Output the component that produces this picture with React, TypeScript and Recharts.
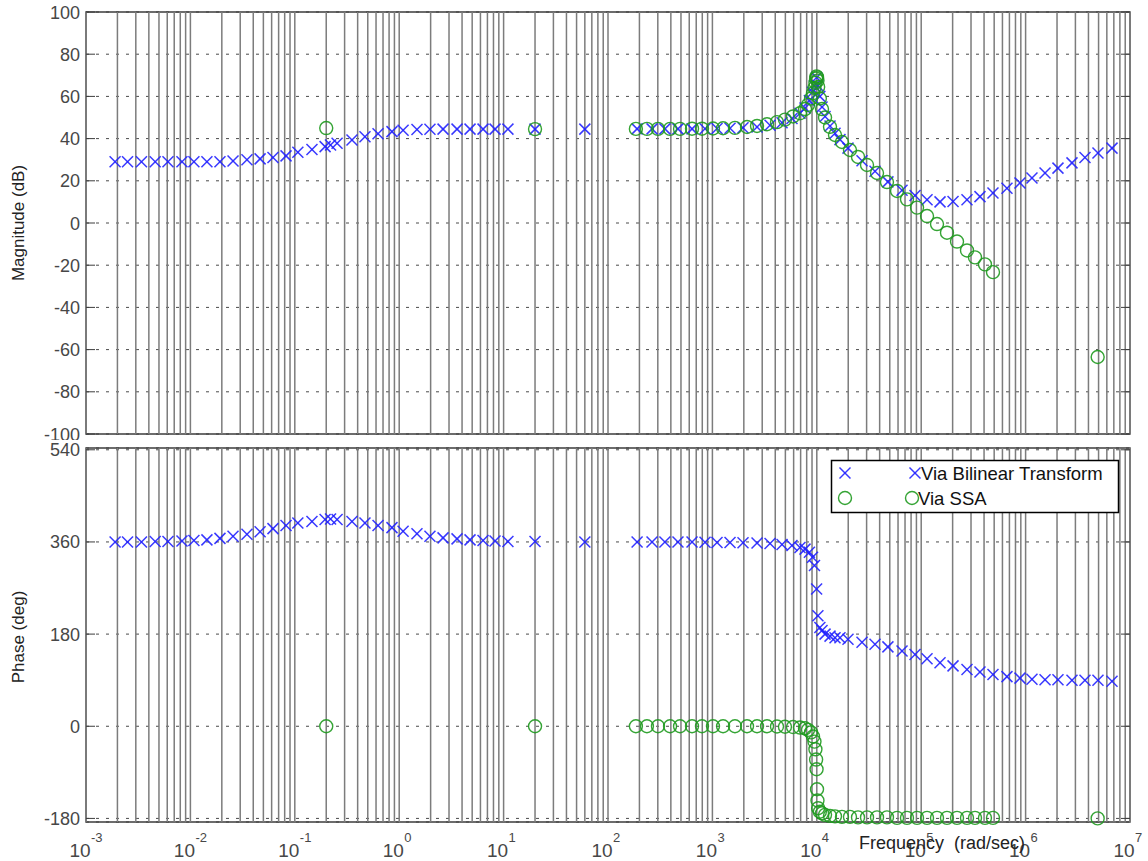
import React from "react";
import {
  ScatterChart,
  Scatter,
  XAxis,
  YAxis,
  CartesianGrid,
  ReferenceLine,
  ReferenceArea,
} from "recharts";

const FONT = '"Liberation Sans", Arial, Helvetica, sans-serif';
const BLUE = "#2222ff";
const GREEN = "#1f9a1f";
const GRID = "#7c7c7c";
const FRAME = "#3c3c3c";
const LABEL = "#474747";

const PLOT_LEFT = 86;
const PLOT_RIGHT = 1130;

// x axis: labels at each decade, solid grid line at 1..9 x each decade
const decades = [1e-3, 1e-2, 1e-1, 1, 1e1, 1e2, 1e3, 1e4, 1e5, 1e6, 1e7];
const decadeExponents = ["-3", "-2", "-1", "0", "1", "2", "3", "4", "5", "6", "7"];
const gridSteps = [1, 2, 3, 4, 5, 6, 7, 8, 9];
const gridLinesX = decades
  .slice(0, -1)
  .flatMap((d) => gridSteps.map((k) => k * d))
  .concat([1e7]);

const magTicks = [-100, -80, -60, -40, -20, 0, 20, 40, 60, 80, 100];
const phaseTicks = [-180, 0, 180, 360, 540];

// Via Bilinear Transform (blue x)
const bilinearFreq = [
  0.0019, 0.0025, 0.0034, 0.0046, 0.0061, 0.0083, 0.0108, 0.0144, 0.0192, 0.0256,
  0.0348, 0.0465, 0.0618, 0.0824, 0.107, 0.146, 0.195, 0.22, 0.254, 0.353,
  0.47, 0.627, 0.853, 1.09, 1.48, 1.97, 2.63, 3.58, 4.77, 6.35,
  8.28, 11, 20, 60,
  190, 264, 351, 468, 638, 850, 1107, 1475, 1964, 2675,
  3565, 4645, 5785, 6900, 7710, 8500, 9100, 9500, 9950,
  10250, 10700, 11220, 11990, 13380, 14940, 16670, 19900, 27100, 36100,
  48000, 65500, 87300, 113700, 151400, 201800, 274600, 365500, 487200, 663000,
  883600, 1151000, 1535000, 2042000, 2782000, 3706000, 4934000, 6724000,
];
const bilinearMag = [
  29, 29, 29, 29, 29, 29, 29, 29, 29, 29.4,
  30, 30.4, 31, 31.8, 33.5, 34.8, 36.2, 37, 37.8, 39.3,
  40.9, 42.3, 43.3, 44, 44.3, 44.4, 44.5, 44.5, 44.5, 44.5,
  44.5, 44.5, 44.5, 44.5,
  44.6, 44.6, 44.6, 44.6, 44.6, 44.7, 44.8, 44.9, 45.1, 45.5,
  46.3, 47.5, 49.5, 52, 54.5, 58, 62, 65, 69,
  65, 60, 55, 50.5, 46, 42.5, 39.5, 35.5, 29.5, 24.5,
  19.5, 15.5, 13, 11, 10, 10.2, 11, 12.5, 14.2, 16.5,
  19, 21.3, 23.7, 26, 28.5, 31, 33.2, 35.5,
];
const bilinearPhase = [
  360, 360, 360, 361, 361, 362, 363, 364, 367, 371,
  375, 380, 386, 392, 397, 400, 404, 405, 404, 400,
  397, 392, 388, 381, 376, 371, 368, 366, 364, 363,
  362, 361, 361, 360,
  360, 360, 360, 360, 360, 359.5, 359, 359, 358.5, 358,
  357, 355, 353, 349, 346, 340, 330, 314, 268,
  216, 193, 187, 180, 176, 173, 173, 170, 164, 160,
  155, 147, 140, 132, 124, 118, 111, 106, 101, 97,
  94, 92, 91, 91, 90, 90, 90, 88,
];

// Via SSA (green o)
const ssaFreq = [
  0.2, 20,
  185, 236, 301, 393, 490, 638, 795, 1013, 1265, 1645,
  2145, 2675, 3335, 4155, 4955, 5915, 6900,
  7710, 8240, 8800, 9200, 9500, 9700, 9850, 9950, 10050, 10150,
  10300, 10700, 11220, 11990,
  13380, 14940, 17420, 20790, 24820, 30270, 37740, 47000, 58700, 73100,
  91200, 113700, 141700, 176600, 220300, 274600, 327600, 408000, 487200,
  4900000,
];
const ssaMag = [
  45, 44.5,
  44.6, 44.6, 44.6, 44.6, 44.6, 44.7, 44.7, 44.8, 44.9, 45.1,
  45.5, 46, 46.8, 47.8, 49, 50.5, 52,
  54, 56, 59, 61.5, 64, 66.5, 68.5, 69.5, 69, 67.5,
  64.5, 59, 54, 50,
  45.6, 41.7, 38.4, 34.6, 31.3, 27.5, 23.7, 19.4, 15.2, 11.2,
  7.3, 3.3, -0.5, -4.6, -8.8, -13, -16.3, -19.6, -23.3,
  -63.5,
];
const ssaPhase = [
  0, 0,
  0, 0, 0, 0, 0, 0, 0, 0, 0, 0,
  0, 0, 0, -0.5, -1, -1.5, -2.5,
  -4, -7, -12, -20, -30, -45, -65, -84, -123, -145,
  -160, -167, -170, -173,
  -175, -176, -177, -177, -178, -178, -178, -178, -179, -179,
  -179, -179, -179, -179, -179, -179, -179, -179, -179,
  -180,
];

const toPoints = (freq: number[], vals: number[]) => freq.map((f, i) => ({ f, v: vals[i] }));

const XMark = ({ cx, cy }: any) => (
  <g stroke={BLUE} strokeWidth={1.5} strokeOpacity={0.9}>
    <line x1={cx - 5.5} y1={cy - 5.5} x2={cx + 5.5} y2={cy + 5.5} />
    <line x1={cx - 5.5} y1={cy + 5.5} x2={cx + 5.5} y2={cy - 5.5} />
  </g>
);

const OMark = ({ cx, cy }: any) => (
  <circle cx={cx} cy={cy} r={6.5} fill="none" stroke={GREEN} strokeWidth={1.4} strokeOpacity={0.9} />
);

const YTick = ({ y, payload }: any) => (
  <g>
    <text x={PLOT_LEFT - 6} y={y} dy={6.5} textAnchor="end" fontSize={18} fontFamily={FONT} fill={LABEL}>
      {payload.value}
    </text>
    <line x1={PLOT_LEFT} x2={PLOT_LEFT + 9} y1={y} y2={y} stroke={FRAME} />
    <line x1={PLOT_RIGHT - 9} x2={PLOT_RIGHT} y1={y} y2={y} stroke={FRAME} />
  </g>
);

const DecadeTick = ({ x, payload }: any) => {
  const i = decades.indexOf(payload.value);
  return (
    <g fontFamily={FONT} fill={LABEL}>
      <text x={x - 6} y={857} textAnchor="middle" fontSize={19}>
        10
      </text>
      <text x={x + 5} y={842} fontSize={13}>
        {decadeExponents[i]}
      </text>
    </g>
  );
};

const gridRefs = () =>
  gridLinesX.map((g) => <ReferenceLine key={g} x={g} stroke={GRID} strokeWidth={1.5} />);

export default function App() {
  return (
    <div style={{ position: "absolute", left: 0, top: 0, width: 1148, height: 861, background: "#fff" }}>
      {/* magnitude */}
      <div style={{ position: "absolute", left: 0, top: 0 }}>
        <ScatterChart width={1148} height={440} margin={{ top: 12, right: 18, bottom: 6, left: 0 }}>
          <CartesianGrid vertical={false} stroke="#4a4a4a" strokeDasharray="3 7" />
          <XAxis type="number" dataKey="f" scale="log" domain={[1e-3, 1e7]} ticks={decades} hide />
          <YAxis
            type="number"
            dataKey="v"
            domain={[-100, 100]}
            ticks={magTicks}
            width={86}
            interval={0}
            tickSize={0}
            tickMargin={6}
            tickLine={false}
            axisLine={false}
            tick={<YTick />}
          />
          {gridRefs()}
          <ReferenceArea x1={1e-3} x2={1e7} y1={-100} y2={100} fill="none" stroke={FRAME} strokeWidth={1.4} />
          <Scatter
            data={toPoints(bilinearFreq, bilinearMag)}
            isAnimationActive={false}
            shape={(p: any) => <XMark cx={p.cx} cy={p.cy} />}
          />
          <Scatter
            data={toPoints(ssaFreq, ssaMag)}
            isAnimationActive={false}
            shape={(p: any) => <OMark cx={p.cx} cy={p.cy} />}
          />
        </ScatterChart>
      </div>

      {/* phase */}
      <div style={{ position: "absolute", left: 0, top: 0 }}>
        <ScatterChart width={1148} height={861} margin={{ top: 448, right: 18, bottom: 0, left: 0 }}>
          <CartesianGrid vertical={false} stroke="#4a4a4a" strokeDasharray="3 7" />
          <XAxis
            type="number"
            dataKey="f"
            scale="log"
            domain={[1e-3, 1e7]}
            ticks={decades}
            interval={0}
            height={39}
            tickSize={0}
            tickLine={false}
            axisLine={false}
            tick={<DecadeTick />}
          />
          <YAxis
            type="number"
            dataKey="v"
            domain={[-187, 543.5]}
            ticks={phaseTicks}
            width={86}
            interval={0}
            tickSize={0}
            tickMargin={6}
            tickLine={false}
            axisLine={false}
            tick={<YTick />}
          />
          {gridRefs()}
          <ReferenceArea x1={1e-3} x2={1e7} y1={-187} y2={543.5} fill="none" stroke={FRAME} strokeWidth={1.4} />
          <Scatter
            data={toPoints(bilinearFreq, bilinearPhase)}
            isAnimationActive={false}
            shape={(p: any) => <XMark cx={p.cx} cy={p.cy} />}
          />
          <Scatter
            data={toPoints(ssaFreq, ssaPhase)}
            isAnimationActive={false}
            shape={(p: any) => <OMark cx={p.cx} cy={p.cy} />}
          />
        </ScatterChart>
      </div>

      {/* axis titles and legend */}
      <svg
        width={1148}
        height={861}
        style={{ position: "absolute", left: 0, top: 0, pointerEvents: "none" }}
        fontFamily={FONT}
      >
        <text x={24} y={223} transform="rotate(-90 24 223)" textAnchor="middle" fontSize={17} fill="#222">
          Magnitude (dB)
        </text>
        <text x={24} y={637} transform="rotate(-90 24 637)" textAnchor="middle" fontSize={17} fill="#222">
          Phase (deg)
        </text>
        <text x={942} y={849} textAnchor="middle" fontSize={18} fill="#222" style={{ whiteSpace: "pre" }}>
          {"Frequency  (rad/sec)"}
        </text>

        <g transform="translate(830,459)">
          <rect x={1.5} y={1.5} width={287} height={52} fill="#fff" stroke="#000" strokeWidth={1.5} />
          <XMark cx={15} cy={14} />
          <XMark cx={85} cy={14} />
          <text x={91} y={21} fontSize={18.5} fill="#111">
            Via Bilinear Transform
          </text>
          <OMark cx={15} cy={39} />
          <OMark cx={82} cy={39} />
          <text x={88} y={46} fontSize={18.5} fill="#111">
            Via SSA
          </text>
        </g>
      </svg>
    </div>
  );
}
